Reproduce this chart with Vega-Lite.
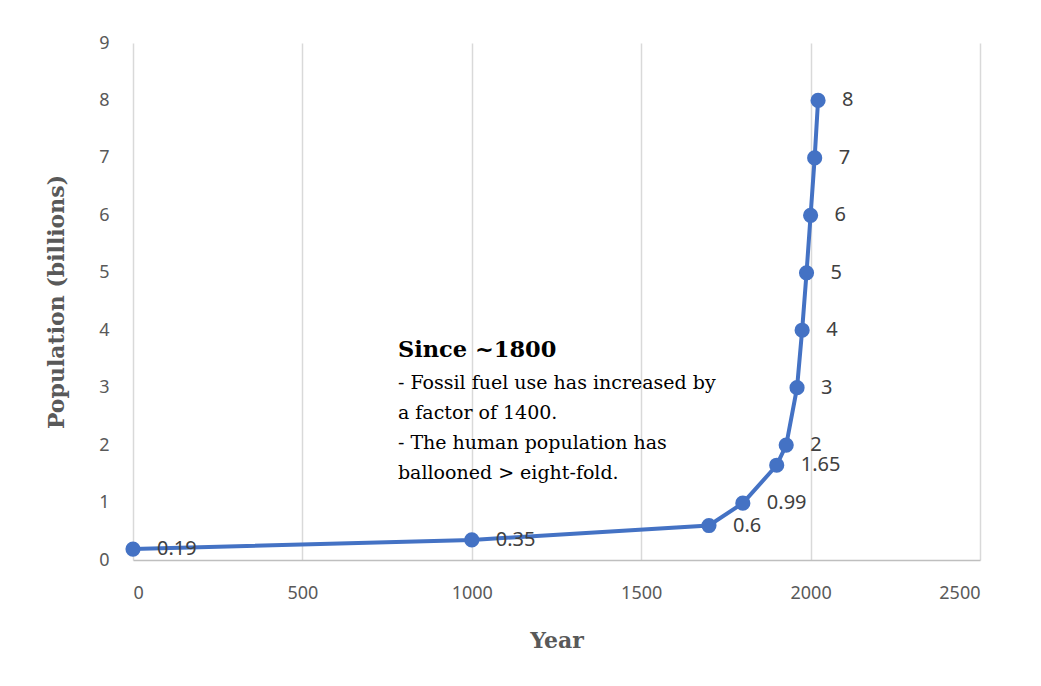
{
  "$schema": "https://vega.github.io/schema/vega-lite/v6.json",
  "width": 847,
  "height": 517,
  "autosize": {"type": "none"},
  "padding": {"left": 133, "top": 43, "right": 61, "bottom": 126},
  "background": "white",
  "config": {"view": {"stroke": null}},
  "datasets": {
    "pop": [
      {"year": 0, "pop": 0.19, "label": "0.19"},
      {"year": 1000, "pop": 0.35, "label": "0.35"},
      {"year": 1700, "pop": 0.6, "label": "0.6"},
      {"year": 1800, "pop": 0.99, "label": "0.99"},
      {"year": 1900, "pop": 1.65, "label": "1.65"},
      {"year": 1928, "pop": 2, "label": "2"},
      {"year": 1960, "pop": 3, "label": "3"},
      {"year": 1975, "pop": 4, "label": "4"},
      {"year": 1988, "pop": 5, "label": "5"},
      {"year": 2000, "pop": 6, "label": "6"},
      {"year": 2012, "pop": 7, "label": "7"},
      {"year": 2022, "pop": 8, "label": "8"}
    ],
    "note": [
      {"year": 782, "pop": 3.66, "title": "Since ~1800", "body": ["- Fossil fuel use has increased by", "a factor of 1400.", "- The human population has", "ballooned  > eight-fold."]}
    ]
  },
  "layer": [
    {
      "data": {"name": "pop"},
      "mark": {"type": "line", "color": "#4472C4", "strokeWidth": 4, "point": {"filled": true, "size": 230, "color": "#4472C4", "opacity": 1}},
      "encoding": {
        "x": {
          "field": "year", "type": "quantitative",
          "scale": {"domain": [0, 2500], "nice": false},
          "axis": {
            "values": [0, 500, 1000, 1500, 2000, 2500],
            "format": "d",
            "title": "Year",
            "titleFont": "DejaVu Serif", "titleFontSize": 22, "titleFontWeight": "bold", "titleColor": "#595959",
            "titlePadding": 28,
            "labelFont": "Noto Sans", "labelFontSize": 18, "labelColor": "#595959", "labelPadding": 24,
            "grid": true, "gridColor": "#d9d9d9", "gridWidth": 1.5,
            "ticks": false, "domainColor": "#bfbfbf", "domainWidth": 1.5
          }
        },
        "y": {
          "field": "pop", "type": "quantitative",
          "scale": {"domain": [0, 9], "nice": false},
          "axis": {
            "values": [0, 1, 2, 3, 4, 5, 6, 7, 8, 9],
            "format": "d",
            "title": "Population (billions)",
            "titleFont": "DejaVu Serif", "titleFontSize": 22, "titleFontWeight": "bold", "titleColor": "#595959",
            "titlePadding": 30,
            "labelFont": "Noto Sans", "labelFontSize": 18, "labelColor": "#595959", "labelPadding": 24,
            "grid": false, "ticks": false, "domain": false
          }
        }
      }
    },
    {
      "data": {"name": "pop"},
      "mark": {"type": "text", "align": "left", "baseline": "middle", "dx": 24, "font": "Noto Sans", "fontSize": 20, "color": "#404040"},
      "encoding": {
        "x": {"field": "year", "type": "quantitative"},
        "y": {"field": "pop", "type": "quantitative"},
        "text": {"field": "label"}
      }
    },
    {
      "data": {"name": "note"},
      "mark": {"type": "text", "align": "left", "baseline": "middle", "font": "DejaVu Serif", "fontSize": 22.5, "fontWeight": "bold", "color": "#000000"},
      "encoding": {
        "x": {"field": "year", "type": "quantitative"},
        "y": {"field": "pop", "type": "quantitative"},
        "text": {"field": "title"}
      }
    },
    {
      "data": {"name": "note"},
      "mark": {"type": "text", "align": "left", "baseline": "middle", "dy": 33, "lineHeight": 30, "font": "DejaVu Serif", "fontSize": 19, "color": "#000000"},
      "encoding": {
        "x": {"field": "year", "type": "quantitative"},
        "y": {"field": "pop", "type": "quantitative"},
        "text": {"field": "body"}
      }
    }
  ]
}
